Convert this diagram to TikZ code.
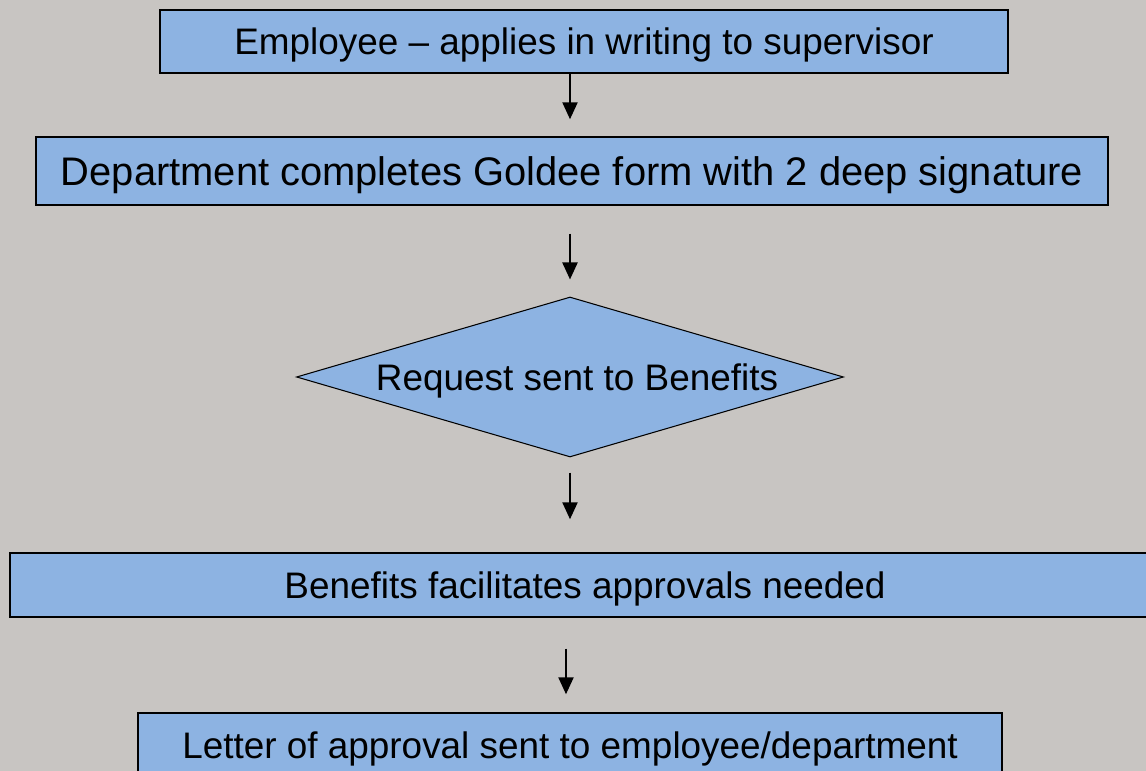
\documentclass[tikz,border=0pt]{standalone}
\usepackage{fontspec}
\setmainfont{Liberation Sans}
\usepackage{xcolor}
\usetikzlibrary{arrows.meta,shapes.geometric}
\definecolor{bgray}{RGB}{200,197,194}
\definecolor{boxblue}{RGB}{141,179,226}
\begin{document}
\begin{tikzpicture}[
    box/.style={rectangle, draw=black, line width=0.8pt, fill=boxblue, inner sep=0pt,
      text depth=0pt, font=\fontsize{21}{25}\selectfont},
    dec/.style={diamond, draw=black, line width=0.6pt, fill=boxblue, inner sep=0pt,
      text depth=0pt, aspect=3.42, font=\fontsize{21}{25}\selectfont},
    flow/.style={line width=1.3pt, -{Triangle[width=0.3cm, length=0.34cm]}}
  ]
    \clip (0,0) rectangle (22.92,15.42);
    \fill[bgray] (0,0) rectangle (22.92,15.42);

    \node[box, minimum width=16.96cm, minimum height=1.26cm] (emp) at (11.68,14.59) {Employee -- applies in writing to supervisor};
    \node[box, minimum width=21.44cm, minimum height=1.36cm, font=\fontsize{22.7}{27}\selectfont] (dept) at (11.44,12.0) {Department completes Goldee form with 2 deep signature};
    \node[dec, minimum width=10.94cm, minimum height=3.2cm] (req) at (11.4,7.88) {\hspace*{0.28cm}Request sent to Benefits};
    \node[box, minimum width=23cm, minimum height=1.28cm] (ben) at (11.7,3.72) {Benefits facilitates approvals needed};
    \node[box, minimum width=17.28cm, minimum height=1.28cm] (let) at (11.4,0.52) {Letter of approval sent to employee/department};

    \draw[flow, shorten >=0.34cm] (req.north |- emp.south) -- (req.north |- dept.north);
    \draw[flow, shorten <=0.56cm, shorten >=0.34cm] (req.north |- dept.south) -- (req.north);
    \draw[flow, shorten <=0.3cm, shorten >=0.66cm] (req.south) -- (req.south |- ben.north);
    \draw[flow, shorten <=0.62cm, shorten >=0.36cm] ([xshift=-0.08cm]let.north |- ben.south) -- ([xshift=-0.08cm]let.north);
  \end{tikzpicture}
\end{document}
